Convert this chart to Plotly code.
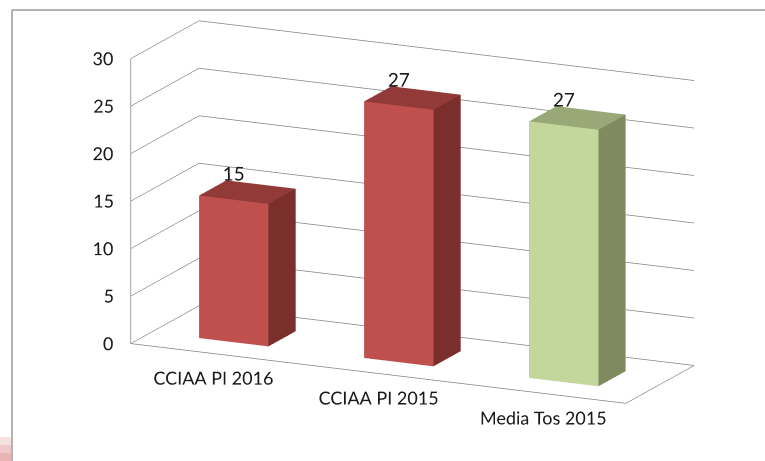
import plotly.graph_objects as go
import numpy as np

# ---- data -------------------------------------------------------------
categories = ["CCIAA PI 2016", "CCIAA PI 2015", "Media Tos 2015"]
values = [15, 27, 27]
z_ticks = [0, 5, 10, 15, 20, 25, 30]

front_colors = ["#C0504D", "#C0504D", "#C3D69B"]
top_colors = ["#923A37", "#923A37", "#99A877"]
side_colors = ["#7B2F2D", "#7B2F2D", "#7F8B5F"]

# ---- geometry of the 3D columns -------------------------------------
BAR_W = 0.42   # share of one category slot
BAR_D = 0.40   # share of the floor depth
FACES = [
    (0, 1, 5), (0, 5, 4),   # front
    (4, 5, 6), (4, 6, 7),   # top
    (1, 2, 6), (1, 6, 5),   # right side
    (3, 0, 4), (3, 4, 7),   # left side
    (2, 3, 7), (2, 7, 6),   # back
    (0, 3, 2), (0, 2, 1),   # bottom
]


def column(i, v, c_front, c_top, c_side):
    x0, x1 = i - BAR_W / 2, i + BAR_W / 2
    y0, y1 = 0.5 - BAR_D / 2, 0.5 + BAR_D / 2
    xs = [x0, x1, x1, x0, x0, x1, x1, x0]
    ys = [y0, y0, y1, y1, y0, y0, y1, y1]
    zs = [0, 0, 0, 0, v, v, v, v]
    fc = [c_front, c_front, c_top, c_top, c_side, c_side,
          c_side, c_side, c_front, c_front, c_side, c_side]
    return go.Mesh3d(
        x=xs, y=ys, z=zs,
        i=[f[0] for f in FACES], j=[f[1] for f in FACES], k=[f[2] for f in FACES],
        facecolor=fc, flatshading=True, opacity=1,
        lighting=dict(ambient=1, diffuse=0, specular=0, roughness=1, fresnel=0),
        hoverinfo="skip", showscale=False,
    )


fig = go.Figure()
for idx, val in enumerate(values):
    fig.add_trace(column(idx, val, front_colors[idx], top_colors[idx], side_colors[idx]))

text_font = dict(family="Lato", color="#1a1a1a")

# value labels above the front edge of each column top
fig.add_trace(go.Scatter3d(
    x=list(range(len(values))),
    y=[0.5 - BAR_D / 2] * len(values),
    z=values,
    mode="text",
    text=[str(v) for v in values],
    textposition="top center",
    textfont=dict(text_font, size=19),
    hoverinfo="skip", showlegend=False,
))

# category names under the front edge of the floor
fig.add_trace(go.Scatter3d(
    x=list(range(len(categories))),
    y=[0] * len(categories),
    z=[0] * len(categories),
    mode="text",
    text=categories,
    textposition="bottom center",
    textfont=dict(text_font, size=18),
    hoverinfo="skip", showlegend=False,
))

# value-axis numbers beside the front left edge
fig.add_trace(go.Scatter3d(
    x=[-0.5] * len(z_ticks),
    y=[0] * len(z_ticks),
    z=z_ticks,
    mode="text",
    text=[str(t) for t in z_ticks],
    textposition="middle left",
    textfont=dict(text_font, size=18),
    hoverinfo="skip", showlegend=False,
))

# ---- camera -----------------------------------------------------------
phi = np.radians(25)     # turn around the vertical axis
alpha = np.radians(15)   # elevation
e = np.array([np.sin(phi) * np.cos(alpha), -np.cos(phi) * np.cos(alpha), np.sin(alpha)])
r = np.array([np.cos(phi), np.sin(phi), 0.0])
u = np.array([-np.sin(phi) * np.sin(alpha), np.cos(phi) * np.sin(alpha), np.cos(alpha)])
c = -0.13 * r - 0.08 * u
eye = c + 2.0 * e

grid_col = "#828282"
axis_common = dict(showbackground=False, showspikes=False, zeroline=False,
                   title=dict(text=""), showticklabels=False, ticks="")

# faint reddish corner mark at the lower left edge of the slide
corner = [
    dict(type="rect", xref="paper", yref="paper", x0=0, x1=11 / 765,
         y0=0, y1=(24 - 8 * k) / 461, line=dict(width=0),
         fillcolor="rgba(205,90,90,0.18)")
    for k in range(3)
]

fig.update_layout(
    width=765, height=461,
    margin=dict(l=0, r=0, t=0, b=0),
    paper_bgcolor="white",
    showlegend=False,
    font=dict(family="Lato", color="#222222"),
    scene=dict(
        domain=dict(x=[0, 1], y=[0, 1]),
        aspectmode="manual",
        aspectratio=dict(x=2.37, y=0.70, z=1.28),
        xaxis=dict(axis_common, range=[-0.5, 2.5], showgrid=False, showline=True,
                   linecolor=grid_col, linewidth=1.5),
        yaxis=dict(axis_common, range=[0, 1], showgrid=False, showline=True,
                   linecolor=grid_col, linewidth=1.5),
        zaxis=dict(axis_common, range=[0, 30], tickvals=z_ticks, showgrid=True,
                   gridcolor=grid_col, gridwidth=1.5, showline=True, linecolor=grid_col,
                   linewidth=1.5),
        camera=dict(
            projection=dict(type="orthographic"),
            eye=dict(x=eye[0], y=eye[1], z=eye[2]),
            center=dict(x=c[0], y=c[1], z=c[2]),
            up=dict(x=0, y=0, z=1),
        ),
        bgcolor="rgba(0,0,0,0)",
    ),
    shapes=corner + [
        dict(type="line", xref="paper", yref="paper", x0=12 / 765, x1=1.0,
             y0=1 - 10 / 461, y1=1 - 10 / 461, line=dict(color="#9A9A9A", width=1.5)),
        dict(type="line", xref="paper", yref="paper", x0=12 / 765, x1=12 / 765,
             y0=0, y1=1 - 10 / 461, line=dict(color="#9A9A9A", width=1.5)),
    ],
)

fig.write_html("out.html", config={"displayModeBar": False})
